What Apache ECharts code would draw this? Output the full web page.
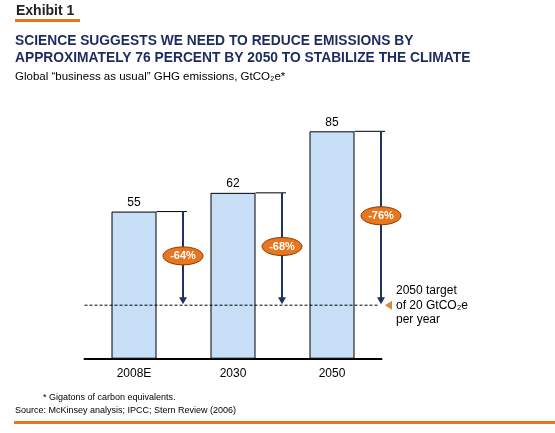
<!DOCTYPE html>
<html>
<head>
<meta charset="utf-8">
<script src="https://cdn.jsdelivr.net/npm/echarts@6/dist/echarts.min.js"></script>
<style>html,body{margin:0;padding:0;background:#fff}#c{width:555px;height:433px}</style>
</head>
<body>
<div id="c"></div>
<script>
var categories = ['2008E', '2030', '2050'];
var emissions = [55, 62, 85];
var reductions = ['-64%', '-68%', '-76%'];
var target = 20;
var targetLines = ['2050 target', 'of 20 GtCO₂e', 'per year'];

var FONT = '"Liberation Sans", Arial, sans-serif';
var NAVY = '#1B2B5E';
var ORANGE = '#E8761E';
var ARROW = '#1E3263';

var chart = echarts.init(document.getElementById('c'), null, {renderer: 'canvas'});

var customData = emissions.map(function (v, i) { return [i, v]; });

chart.setOption({
  animation: false,
  backgroundColor: '#fff',
  grid: {left: 84.5, right: 173.5, top: 91.2, bottom: 74.3},
  xAxis: {
    type: 'category',
    data: categories,
    axisLine: {lineStyle: {color: '#000', width: 2}},
    axisTick: {show: false},
    axisLabel: {color: '#000', fontFamily: FONT, fontSize: 12, margin: 9}
  },
  yAxis: {type: 'value', min: 0, max: 100, show: false, splitLine: {show: false}},
  graphic: [
    {type: 'text', left: 16, top: 4, style: {text: 'Exhibit 1', fill: '#222', font: 'bold 14px ' + FONT}},
    {type: 'rect', shape: {x: 15, y: 19, width: 65, height: 3}, style: {fill: ORANGE}},
    {type: 'text', left: 15, top: 33, style: {text: 'SCIENCE SUGGESTS WE NEED TO REDUCE EMISSIONS BY\nAPPROXIMATELY 76 PERCENT BY 2050 TO STABILIZE THE CLIMATE', fill: NAVY, font: 'bold 13.8px ' + FONT, lineHeight: 17}},
    {type: 'text', left: 15, top: 71, style: {text: 'Global \u201cbusiness as usual\u201d GHG emissions, GtCO\u2082e*', fill: '#000', font: '11.5px ' + FONT}},
    {type: 'text', left: 43, top: 393, style: {text: '* Gigatons of carbon equivalents.', fill: '#000', font: '9px ' + FONT}},
    {type: 'text', left: 15, top: 406, style: {text: 'Source: McKinsey analysis; IPCC; Stern Review (2006)', fill: '#000', font: '9px ' + FONT}},
    {type: 'rect', shape: {x: 14, y: 421, width: 541, height: 3}, style: {fill: ORANGE}}
  ],
  series: [
    {
      type: 'bar',
      data: emissions,
      barWidth: 45,
      itemStyle: {color: '#C7E0F8', borderColor: '#000', borderWidth: 1},
      label: {show: true, position: 'top', distance: 3, color: '#000', fontFamily: FONT, fontSize: 12},
      z: 2
    },
    {
      type: 'custom',
      data: customData,
      z: 5,
      renderItem: function (params, api) {
        var idx = api.value(0);
        var val = api.value(1);
        var top = api.coord([idx, val]);
        var base = api.coord([idx, target]);
        var cx = top[0];
        var ax = cx + 49;
        var children = [
          {type: 'line', shape: {x1: cx + 22.5, y1: top[1], x2: ax + 4, y2: top[1]}, style: {stroke: '#000', lineWidth: 1}},
          {type: 'line', shape: {x1: ax, y1: top[1], x2: ax, y2: base[1] - 7}, style: {stroke: ARROW, lineWidth: 2}},
          {type: 'polygon', shape: {points: [[ax - 4, base[1] - 8], [ax + 4, base[1] - 8], [ax, base[1] - 1]]}, style: {fill: ARROW}},
          {type: 'ellipse', shape: {cx: ax, cy: (top[1] + base[1]) / 2 - 2.5, rx: 20, ry: 9}, style: {fill: ORANGE, stroke: '#8A3A00', lineWidth: 1}},
          {type: 'text', x: ax, y: (top[1] + base[1]) / 2 - 2.5, style: {text: reductions[idx], fill: '#fff', font: 'bold 11px ' + FONT, align: 'center', verticalAlign: 'middle'}}
        ];
        if (idx === 0) {
          var cs = params.coordSys;
          children.unshift({type: 'line', shape: {x1: cs.x, y1: base[1], x2: cs.x + cs.width - 4, y2: base[1]}, style: {stroke: '#000', lineWidth: 1, lineDash: [3, 2]}});
        }
        if (idx === emissions.length - 1) {
          children.push({type: 'polygon', shape: {points: [[ax + 4, base[1]], [ax + 11, base[1] - 4.5], [ax + 11, base[1] + 4.5]]}, style: {fill: '#D98A3A'}});
          children.push({type: 'text', x: ax + 15, y: base[1], style: {text: targetLines.join('\n'), fill: '#000', font: '12px ' + FONT, lineHeight: 14.5, align: 'left', verticalAlign: 'middle'}});
        }
        return {type: 'group', children: children};
      }
    }
  ]
});
</script>
</body>
</html>
